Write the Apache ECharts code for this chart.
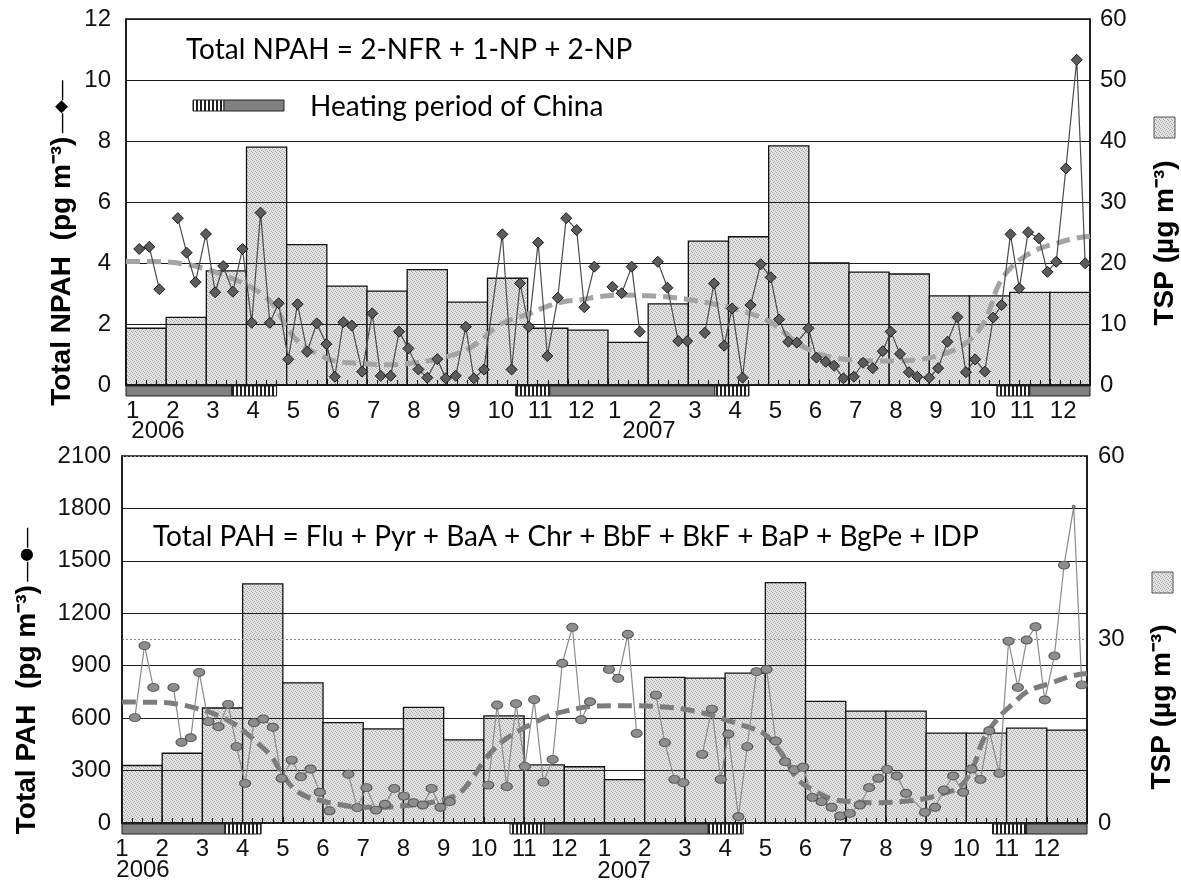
<!DOCTYPE html>
<html>
<head>
<meta charset="utf-8">
<title>NPAH / PAH and TSP, 2006-2007</title>
<script src="https://cdn.jsdelivr.net/npm/echarts/dist/echarts.min.js"></script>
<style>
  html, body { margin: 0; background: #fff; }
  #chart { width: 1181px; height: 882px; }
</style>
</head>
<body>
<div id="chart"></div>
<script>
// month tick labels and years (x axis runs 0..24 months from Jan 2006)
var monthTicks = ['1', '2', '3', '4', '5', '6', '7', '8', '9', '10', '11', '12'];
var yearLabels = ['2006', '2007'];

// monthly TSP bars (µg m-3), Jan 2006 .. Dec 2007
var tspTop = [9.3, 11.1, 18.7, 39.0, 23.0, 16.2, 15.4, 18.9, 13.6, 17.5, 9.3, 9.0,
              7.0, 13.3, 23.6, 24.3, 39.2, 20.0, 18.5, 18.2, 14.6, 14.6, 15.2, 15.2];
var tspBottom = [9.4, 11.4, 18.8, 39.1, 22.9, 16.4, 15.4, 18.9, 13.6, 17.5, 9.5, 9.2,
                 7.1, 23.8, 23.7, 24.5, 39.3, 19.9, 18.3, 18.3, 14.7, 14.7, 15.5, 15.2];

// Total NPAH samples (pg m-3); null = break in the line
var npahMonth = [
  0.33, 0.58, 0.83, null, 1.29, 1.51, 1.73, 1.99, 2.22, 2.42, 2.66, 2.90, 3.13, 3.35, 3.58, 3.80,
  4.04, 4.27, 4.51, 4.75, 4.99, 5.20, 5.41, 5.62, 5.88, 6.13, 6.34, 6.59, 6.80, 7.03, 7.28, 7.50, 7.75, 7.96,
  8.21, 8.46, 8.66, 8.91, 9.37, 9.60, 9.81, 10.03, 10.26, 10.49, 10.75, 10.96, 11.22, 11.41, 11.66, null,
  12.11, 12.34, 12.59, 12.79, null, 13.24, 13.48, 13.75, 13.97, null, 14.41, 14.64, 14.89, 15.09, 15.35, 15.55, 15.80,
  16.05, 16.26, 16.49, 16.70, 16.99, 17.19, 17.42, 17.63, 17.86, 18.12, 18.35, 18.59, 18.84, 19.04, 19.27, 19.49, 19.70,
  20.00, 20.22, 20.45, 20.70, 20.91, 21.14, 21.38, 21.59, 21.80, 22.02, 22.24, 22.46, 22.73, 22.94, 23.16, 23.40, 23.67, 23.88
];
var npahValue = [
  4.46, 4.53, 3.14, null, 5.47, 4.34, 3.37, 4.95, 3.04, 3.90, 3.06, 4.46, 2.04, 5.65, 2.04, 2.68,
  0.84, 2.65, 1.09, 2.02, 1.34, 0.27, 2.06, 1.95, 0.44, 2.35, 0.30, 0.30, 1.75, 1.20, 0.51, 0.24, 0.85, 0.22,
  0.30, 1.91, 0.22, 0.51, 4.94, 0.51, 3.33, 1.91, 4.67, 0.95, 2.86, 5.47, 5.08, 2.55, 3.88, null,
  3.22, 3.01, 3.88, 1.75, null, 4.04, 3.19, 1.44, 1.44, null, 1.71, 3.33, 1.29, 2.51, 0.24, 2.62, 3.96,
  3.53, 2.15, 1.42, 1.39, 1.86, 0.90, 0.76, 0.63, 0.22, 0.27, 0.73, 0.55, 1.11, 1.75, 1.02, 0.42, 0.27,
  0.24, 0.55, 1.42, 2.22, 0.42, 0.84, 0.44, 2.21, 2.62, 4.94, 3.17, 5.01, 4.81, 3.71, 4.04, 7.10, 10.66, 3.99
];

// NPAH trend curve
var npahTrendMonth = [0, 0.9, 1.43, 1.92, 2.42, 2.92, 3.42, 3.72, 3.96, 4.2,
  4.48, 4.77, 5.16, 5.9, 6.5, 7.07, 7.57, 7.98, 8.48, 8.9,
  9.23, 9.56, 10.06, 10.47, 10.89, 11.3, 11.8, 12.38, 12.87, 13.37,
  13.92, 14.46, 14.95, 15.45, 15.95, 16.36, 16.7, 17.11, 17.61, 18.11,
  18.6, 19.19, 19.77, 20.26, 20.76, 21.18, 21.45, 21.73, 22.0, 22.3,
  22.7, 23.1, 23.6, 24];
var npahTrendValue = [4.05, 4.04, 3.97, 3.83, 3.61, 3.33, 2.95, 2.55, 1.97, 1.55,
  1.22, 1.02, 0.80, 0.70, 0.66, 0.71, 0.80, 0.93, 1.15, 1.55,
  1.91, 2.13, 2.35, 2.57, 2.73, 2.79, 2.90, 2.95, 2.93, 2.90,
  2.82, 2.70, 2.57, 2.38, 2.13, 1.75, 1.40, 1.09, 0.90, 0.82,
  0.79, 0.79, 0.84, 0.98, 1.24, 1.70, 2.30, 3.30, 3.80, 4.15,
  4.45, 4.62, 4.80, 4.88];

// Total PAH samples (pg m-3); null = break in the line
var pahMonth = [
  0.32, 0.56, 0.78, null, 1.28, 1.48, 1.71, 1.92, 2.15, 2.40, 2.64, 2.85, 3.06, 3.28, 3.51, 3.75,
  3.97, 4.22, 4.45, 4.69, 4.92, 5.16, null, 5.63, 5.85, 6.08, 6.32, 6.54, 6.77, 7.01, 7.25, 7.48, 7.70, 7.92, 8.15, null,
  9.11, 9.33, 9.57, 9.80, 10.02, 10.25, 10.48, 10.71, 10.95, 11.20, 11.42, 11.64, null,
  12.11, 12.34, 12.58, 12.80, null, 13.28, 13.50, 13.74, 13.96, null, 14.43, 14.67, 14.89, 15.08, 15.33, 15.55, 15.78,
  16.03, 16.26, 16.49, 16.72, 16.94, 17.17, 17.40, 17.65, 17.86, 18.10, 18.35, 18.58, 18.81, 19.03, 19.27, 19.50,
  19.97, 20.22, 20.44, 20.67, 20.92, 21.13, 21.35, 21.57, 21.82, 22.05, 22.28, 22.50, 22.72, 22.95, 23.19, 23.43, 23.67, 23.87
];
var pahValue = [
  603, 1015, 776, null, 776, 462, 488, 862, 580, 551, 679, 437, 227, 574, 595, 548,
  256, 360, 265, 309, 176, 70, null, 279, 88, 202, 74, 107, 198, 154, 116, 103, 198, 90, 122, null,
  217, 675, 208, 683, 324, 706, 234, 364, 914, 1120, 591, 694, null,
  879, 828, 1080, 513, null, 732, 460, 250, 231, null, 393, 652, 250, 509, 36, 437, 866,
  879, 469, 351, 305, 319, 147, 122, 90, 40, 55, 103, 202, 256, 307, 269, 170,
  61, 90, 189, 269, 176, 309, 250, 528, 284, 1041, 776, 1047, 1123, 704, 956, 1476, 1810, 790
];

// PAH trend curve
var pahTrendMonth = [0, 0.78, 1.36, 1.86, 2.36, 2.77, 3.10, 3.43, 3.72, 3.93,
  4.26, 4.59, 4.92, 5.30, 5.84, 6.42, 7.0, 7.5, 8.03, 8.41,
  8.74, 8.99, 9.23, 9.57, 9.90, 10.23, 10.56, 10.98, 11.64, 12.22,
  12.80, 13.38, 13.96, 14.54, 15.04, 15.54, 15.95, 16.28, 16.61, 16.8,
  17.19, 17.69, 18.19, 18.77, 19.35, 19.93, 20.43, 20.84, 21.17, 21.42,
  21.75, 22.17, 22.54, 23.1, 23.6, 24];
var pahTrendValue = [692, 691, 681, 656, 618, 570, 513, 446, 380, 300,
  200, 151, 130, 110, 92, 90, 99, 112, 135, 174,
  265, 351, 418, 485, 532, 570, 608, 637, 666, 671,
  671, 666, 652, 624, 589, 551, 513, 437, 322, 250,
  189, 135, 122, 116, 122, 137, 170, 208, 322, 475,
  589, 685, 755, 800, 840, 855];

// heating period strip under each x axis: 0 = heating, 1 = transition
var heatType = [0, 1, 1, 0, 1, 1, 0];
var heatStartTop = [0, 2.63, 9.7, 10.55, 14.66, 21.68, 22.5];
var heatEndTop = [2.63, 3.75, 10.55, 14.66, 15.51, 22.5, 24];
var heatStartBottom = [0, 2.56, 9.65, 10.5, 14.58, 21.65, 22.5];
var heatEndBottom = [2.56, 3.46, 10.5, 14.58, 15.45, 22.5, 24];

var chart = echarts.init(document.getElementById('chart'));

function makeHatch() {
  var c = document.createElement('canvas');
  c.width = 4; c.height = 4;
  var g = c.getContext('2d');
  g.fillStyle = '#fff'; g.fillRect(0, 0, 4, 4);
  g.fillStyle = '#1e1e1e'; g.fillRect(0, 0, 2, 4);
  return c;
}
function makeStipple() {
  var c = document.createElement('canvas');
  c.width = 4; c.height = 4;
  var g = c.getContext('2d');
  g.fillStyle = '#e3e3e3'; g.fillRect(0, 0, 4, 4);
  g.fillStyle = '#a6a6a6';
  [[0, 0], [2, 1], [1, 2], [3, 3]].forEach(function (p) { g.fillRect(p[0], p[1], 1, 1); });
  return c;
}
var hatchFill = { image: makeHatch(), repeat: 'repeat' };
var barFill = { image: makeStipple(), repeat: 'repeat' };

function pts(ms, vs, tallOver) {
  return ms.map(function (m, i) {
    if (m === null) return ['-', '-'];
    // the off-scale peak is only a faint dot in the original
    if (tallOver && vs[i] > tallOver) return { value: [m, vs[i]], symbolSize: 3 };
    return [m, vs[i]];
  });
}
function heatData(starts, ends) {
  return starts.map(function (s, i) { return [s, ends[i], heatType[i]]; });
}

function barItem(params, api) {
  var m = api.value(0), v = api.value(1);
  var a = api.coord([m, v]), b = api.coord([m + 1, 0]);
  return {
    type: 'rect',
    shape: { x: a[0], y: a[1], width: b[0] - a[0], height: b[1] - a[1] },
    style: { fill: barFill, stroke: '#111', lineWidth: 1.3 }
  };
}
function heatItem(params, api) {
  var a = api.coord([api.value(0), 0]), b = api.coord([api.value(1), 0]);
  return {
    type: 'rect',
    shape: { x: a[0], y: a[1] + 1, width: b[0] - a[0], height: 10 },
    style: { fill: api.value(2) ? hatchFill : '#808080', stroke: '#222', lineWidth: 1 }
  };
}

var tickFont = { fontFamily: '"Liberation Sans", Arial, sans-serif', fontSize: 24, color: '#111' };
var plain = function (v) { return String(v); };

function xAxisFor(grid, align) {
  return {
    type: 'value', gridIndex: grid, min: 0, max: 24, interval: 1, z: 3,
    axisLine: { lineStyle: { color: '#111', width: 1.5 } },
    axisTick: { inside: true, length: 6, lineStyle: { color: '#111' } },
    minorTick: { show: true, splitNumber: 4, length: 5, lineStyle: { color: '#111' } },
    splitLine: { show: false },
    axisLabel: Object.assign({
      margin: 14, align: align,
      formatter: function (v) { return v >= 24 ? '' : monthTicks[v % 12]; }
    }, tickFont)
  };
}

var titleRich = {
  b: { fontFamily: '"Liberation Sans"', fontWeight: 'bold', fontSize: 28, color: '#111' },
  l: { fontFamily: '"Liberation Sans"', fontSize: 20, color: '#333' },
  d: { fontFamily: '"DejaVu Sans"', fontSize: 17, color: '#555' },
  c: { fontFamily: '"DejaVu Sans"', fontSize: 16, color: '#7a7a7a' }
};

var option = {
  animation: false,
  backgroundColor: '#fff',
  grid: [
    { left: 126, right: 91, top: 19, bottom: 497, show: true, borderColor: '#111', borderWidth: 1.5 },
    { left: 122, right: 94, top: 456, bottom: 59, show: true, borderColor: '#111', borderWidth: 1.5 }
  ],
  xAxis: [xAxisFor(0, 'left'), xAxisFor(1, 'center')],
  yAxis: [
    { type: 'value', gridIndex: 0, min: 0, max: 12, interval: 2, z: 3,
      axisLine: { show: true, lineStyle: { color: '#111', width: 1.5 } }, axisTick: { show: false },
      splitLine: { lineStyle: { color: '#1a1a1a', width: 1.2 } },
      axisLabel: Object.assign({ margin: 15, formatter: plain }, tickFont) },
    { type: 'value', gridIndex: 0, position: 'right', min: 0, max: 60, interval: 10, z: 3,
      axisLine: { show: true, lineStyle: { color: '#111', width: 1.5 } }, axisTick: { show: false },
      splitLine: { show: false },
      axisLabel: Object.assign({ margin: 10, formatter: plain }, tickFont) },
    { type: 'value', gridIndex: 1, min: 0, max: 2100, interval: 300, z: 3,
      axisLine: { show: true, lineStyle: { color: '#111', width: 1.5 } }, axisTick: { show: false },
      splitLine: { lineStyle: { color: '#1a1a1a', width: 1.2 } },
      axisLabel: Object.assign({ margin: 11, formatter: plain }, tickFont) },
    { type: 'value', gridIndex: 1, position: 'right', min: 0, max: 60, interval: 30, z: 3,
      axisLine: { show: true, lineStyle: { color: '#111', width: 1.5 } }, axisTick: { show: false },
      splitLine: { show: true, lineStyle: { color: '#8a8a8a', width: 1, type: [2, 2] } },
      axisLabel: Object.assign({ margin: 11, formatter: plain }, tickFont) }
  ],
  series: [
    { name: 'TSP', type: 'custom', xAxisIndex: 0, yAxisIndex: 1, z: 1,
      encode: { x: 0, y: 1 }, renderItem: barItem,
      data: tspTop.map(function (v, i) { return [i, v]; }) },
    { name: 'Heating', type: 'custom', xAxisIndex: 0, yAxisIndex: 0, z: 4, clip: false,
      encode: { x: [0, 1], y: 2 }, renderItem: heatItem,
      data: heatData(heatStartTop, heatEndTop) },
    { name: 'NPAH trend', type: 'line', xAxisIndex: 0, yAxisIndex: 0, z: 5,
      data: pts(npahTrendMonth, npahTrendValue), smooth: 0.4, symbol: 'none',
      lineStyle: { color: '#a4a4a4', width: 5, type: [14, 7] } },
    { name: 'Total NPAH', type: 'line', xAxisIndex: 0, yAxisIndex: 0, z: 6,
      data: pts(npahMonth, npahValue), connectNulls: false,
      symbol: 'diamond', symbolSize: 11,
      itemStyle: { color: '#5c5c5c', borderColor: '#1a1a1a', borderWidth: 1 },
      lineStyle: { color: '#4a4a4a', width: 1.2 } },

    { name: 'TSP 2', type: 'custom', xAxisIndex: 1, yAxisIndex: 3, z: 1,
      encode: { x: 0, y: 1 }, renderItem: barItem,
      data: tspBottom.map(function (v, i) { return [i, v]; }) },
    { name: 'Heating 2', type: 'custom', xAxisIndex: 1, yAxisIndex: 2, z: 4, clip: false,
      encode: { x: [0, 1], y: 2 }, renderItem: heatItem,
      data: heatData(heatStartBottom, heatEndBottom) },
    { name: 'PAH trend', type: 'line', xAxisIndex: 1, yAxisIndex: 2, z: 5,
      data: pts(pahTrendMonth, pahTrendValue), smooth: 0.4, symbol: 'none',
      lineStyle: { color: '#7c7c7c', width: 5, type: [14, 7] } },
    { name: 'Total PAH', type: 'line', xAxisIndex: 1, yAxisIndex: 2, z: 6,
      data: pts(pahMonth, pahValue, 1700), connectNulls: false,
      symbol: 'circle', symbolSize: [11, 8],
      itemStyle: { color: '#8e8e8e', borderColor: '#555', borderWidth: 1 },
      lineStyle: { color: '#8a8a8a', width: 1.2 } }
  ],
  graphic: [
    // formula captions
    { type: 'text', x: 186, y: 50, z: 10,
      style: { text: 'Total NPAH = 2-NFR + 1-NP + 2-NP', font: '28px Lato', fill: '#000', verticalAlign: 'middle' } },
    { type: 'text', x: 310, y: 107, z: 10,
      style: { text: 'Heating period of China', font: '28px Lato', fill: '#000', verticalAlign: 'middle' } },
    { type: 'rect', z: 10, shape: { x: 193, y: 100, width: 31, height: 11 },
      style: { fill: hatchFill, stroke: '#222', lineWidth: 1 } },
    { type: 'rect', z: 10, shape: { x: 224, y: 100, width: 60, height: 11 },
      style: { fill: '#808080', stroke: '#222', lineWidth: 1 } },
    { type: 'text', x: 153, y: 537, z: 10,
      style: { text: 'Total PAH = Flu + Pyr + BaA + Chr + BbF + BkF + BaP + BgPe + IDP', font: '28px Lato', fill: '#000', verticalAlign: 'middle' } },

    // year labels under the month ticks
    { type: 'text', x: 158, y: 431, style: { text: yearLabels[0], font: '24px "Liberation Sans"', fill: '#111', align: 'center', verticalAlign: 'middle' } },
    { type: 'text', x: 649, y: 431, style: { text: yearLabels[1], font: '24px "Liberation Sans"', fill: '#111', align: 'center', verticalAlign: 'middle' } },
    { type: 'text', x: 143, y: 870, style: { text: yearLabels[0], font: '24px "Liberation Sans"', fill: '#111', align: 'center', verticalAlign: 'middle' } },
    { type: 'text', x: 624, y: 871, style: { text: yearLabels[1], font: '24px "Liberation Sans"', fill: '#111', align: 'center', verticalAlign: 'middle' } },

    // axis titles
    { type: 'text', x: 62, y: 243, rotation: Math.PI / 2,
      style: { text: '{b|Total NPAH  (pg m⁻³)} {l|—}{d|◆}{l|—}', align: 'center', verticalAlign: 'middle', rich: titleRich } },
    { type: 'text', x: 1165, y: 243, rotation: Math.PI / 2,
      style: { text: '{b|TSP (µg m⁻³)}', align: 'center', verticalAlign: 'middle', rich: titleRich } },
    { type: 'rect', shape: { x: 1154, y: 117, width: 21, height: 21 },
      style: { fill: barFill, stroke: '#555', lineWidth: 1 } },

    { type: 'text', x: 27, y: 681, rotation: Math.PI / 2,
      style: { text: '{b|Total PAH  (pg m⁻³)} {l|—}{c|●}{l|—}', align: 'center', verticalAlign: 'middle', rich: titleRich } },
    { type: 'text', x: 1162, y: 707, rotation: Math.PI / 2,
      style: { text: '{b|TSP (µg m⁻³)}', align: 'center', verticalAlign: 'middle', rich: titleRich } },
    { type: 'rect', shape: { x: 1152, y: 572, width: 21, height: 21 },
      style: { fill: barFill, stroke: '#555', lineWidth: 1 } }
  ]
};

chart.setOption(option);
</script>
</body>
</html>
